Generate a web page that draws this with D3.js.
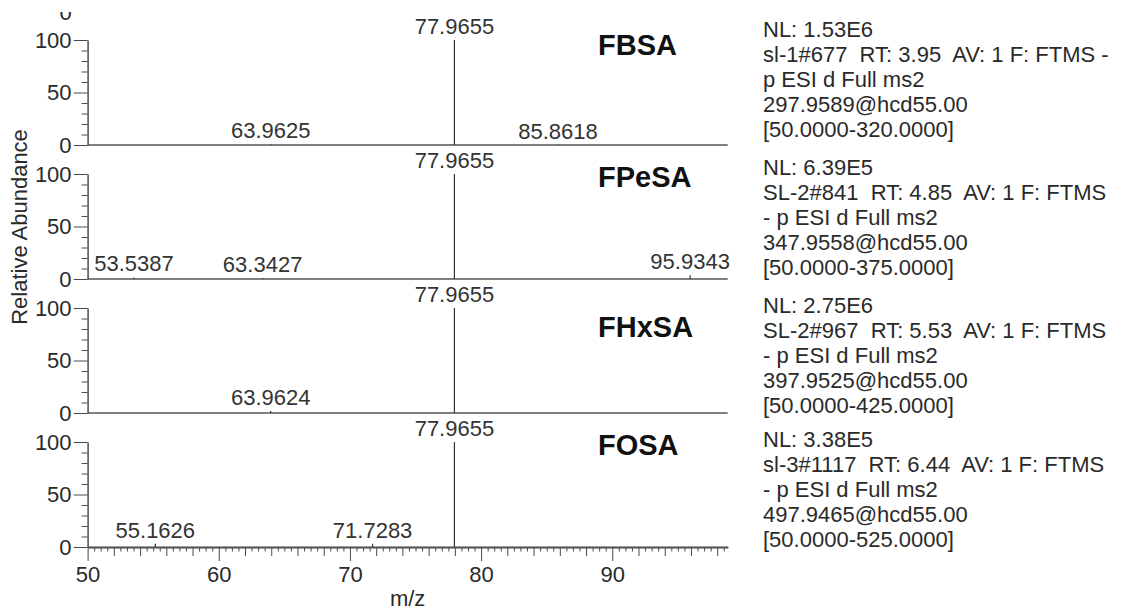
<!DOCTYPE html>
<html>
<head>
<meta charset="utf-8">
<script src="https://cdn.jsdelivr.net/npm/d3@7"></script>
<style>
  html, body { margin: 0; padding: 0; background: #fff; }
  svg { display: block; font-family: "Liberation Sans", Arial, Helvetica, sans-serif; }
  text { white-space: pre; }
</style>
</head>
<body>
<svg id="chart" width="1128" height="612"></svg>
<script>
// MS2 product-ion spectra of four perfluoroalkane sulfonamides (stacked panels)
const compounds = ["FBSA", "FPeSA", "FHxSA", "FOSA"];

const fbsaMz = [63.9625, 77.9655, 85.8618];
const fbsaAbundance = [0.6, 100, 0.4];
const fpesaMz = [53.5387, 63.3427, 77.9655, 95.9343];
const fpesaAbundance = [1.5, 1.0, 100, 3.5];
const fhxsaMz = [63.9624, 77.9655];
const fhxsaAbundance = [2.0, 100];
const fosaMz = [55.1626, 71.7283, 77.9655];
const fosaAbundance = [3.0, 3.0, 100];

// Scan header information shown beside each spectrum
const normLevels = ["1.53E6", "6.39E5", "2.75E6", "3.38E5"];
const scanHeaders = [
  "sl-1#677  RT: 3.95  AV: 1 F: FTMS -",
  "SL-2#841  RT: 4.85  AV: 1 F: FTMS",
  "SL-2#967  RT: 5.53  AV: 1 F: FTMS",
  "sl-3#1117  RT: 6.44  AV: 1 F: FTMS"
];
const scanModes = ["p ESI d Full ms2", "- p ESI d Full ms2", "- p ESI d Full ms2", "- p ESI d Full ms2"];
const precursors = ["297.9589@hcd55.00", "347.9558@hcd55.00", "397.9525@hcd55.00", "497.9465@hcd55.00"];
const scanRanges = ["[50.0000-320.0000]", "[50.0000-375.0000]", "[50.0000-425.0000]", "[50.0000-525.0000]"];

const xTickValues = [50, 60, 70, 80, 90];
const yTickValues = [0, 50, 100];
const mzDomain = [50, 98.8];
const abundanceDomain = [0, 100];

const spectra = [
  { mz: fbsaMz, ab: fbsaAbundance },
  { mz: fpesaMz, ab: fpesaAbundance },
  { mz: fhxsaMz, ab: fhxsaAbundance },
  { mz: fosaMz, ab: fosaAbundance }
];

// ---- layout ----
const plotLeft = 87.6, plotRight = 727.7;
const panelTop = 40, panelStep = 134, panelHeight = 105;
const nameX = 598, nameDy = [15, 13, 29, 13];
const infoX = 763, infoDy = [-3.3, 1, 5.3, 4.7], infoLine = 25;
const fontSize = 22;
const ink = "#2a2a2a", axisInk = "#4a4a4a";

const svg = d3.select("#chart");
const x = d3.scaleLinear().domain(mzDomain).range([plotLeft, plotRight]);
const fmt = d3.format(".4f");

// clipped tick label left over from a panel above the visible area
svg.append("clipPath").attr("id", "topclip")
  .append("rect").attr("x", 0).attr("y", 12).attr("width", 100).attr("height", 20);
svg.append("text").attr("clip-path", "url(#topclip)")
  .attr("x", 71.7).attr("y", 20).attr("text-anchor", "end")
  .attr("font-size", fontSize).attr("fill", ink).text("0");

function styleAxis(sel) {
  sel.attr("font-family", null).attr("font-size", fontSize);
  sel.selectAll("path.domain").attr("stroke", axisInk);
  sel.selectAll(".tick line").attr("stroke", axisInk);
  sel.selectAll(".tick text").attr("fill", ink);
}

spectra.forEach((s, i) => {
  const top = panelTop + i * panelStep;
  const g = svg.append("g").attr("transform", `translate(0,${top})`);
  const y = d3.scaleLinear().domain(abundanceDomain).range([panelHeight, 0]);

  // y axis: labelled major ticks and minor ticks every 10 %
  g.append("g").attr("transform", `translate(${plotLeft},0)`)
    .call(d3.axisLeft(y).tickValues(d3.range(0, 101, 10).filter(v => !yTickValues.includes(v)))
      .tickSize(6).tickSizeOuter(0).tickFormat(""))
    .call(styleAxis);
  g.append("g").attr("transform", `translate(${plotLeft},0)`)
    .call(d3.axisLeft(y).tickValues(yTickValues).tickSize(14).tickPadding(2).tickSizeOuter(0))
    .call(styleAxis);

  // baseline / x axis
  if (i < spectra.length - 1) {
    g.append("line")
      .attr("x1", x(mzDomain[0])).attr("x2", x(mzDomain[1]))
      .attr("y1", y(0)).attr("y2", y(0))
      .attr("stroke", "#555").attr("stroke-width", 1.6);
  } else {
    const minor = d3.range(50, 99, 0.5).filter(v => v % 2 !== 0);
    const medium = d3.range(50, 99, 2).filter(v => v % 10 !== 0);
    const ax = g.append("g").attr("transform", `translate(0,${y(0)})`);
    ax.append("g").call(d3.axisBottom(x).tickValues(minor).tickSize(4.5).tickSizeOuter(0).tickFormat("")).call(styleAxis);
    ax.append("g").call(d3.axisBottom(x).tickValues(medium).tickSize(9).tickSizeOuter(0).tickFormat("")).call(styleAxis);
    ax.append("g").call(d3.axisBottom(x).tickValues(xTickValues).tickSize(14).tickPadding(5).tickSizeOuter(0)).call(styleAxis);
    ax.selectAll("path.domain").attr("stroke", "#555").attr("stroke-width", 1.6);
  }

  // peaks
  const peaks = s.mz.map((m, k) => ({ mz: m, ab: s.ab[k] }));
  g.selectAll("line.peak").data(peaks).join("line")
    .attr("class", "peak")
    .attr("x1", d => x(d.mz)).attr("x2", d => x(d.mz))
    .attr("y1", y(0)).attr("y2", d => y(d.ab))
    .attr("stroke", "#333").attr("stroke-width", 1.2);

  g.selectAll("text.plabel").data(peaks).join("text")
    .attr("class", "plabel")
    .attr("x", d => x(d.mz))
    .attr("y", d => y(d.ab) - (d.ab >= 50 ? 6.5 : 6))
    .attr("text-anchor", "middle")
    .attr("font-size", fontSize).attr("fill", "#333")
    .text(d => fmt(d.mz));

  // compound name
  g.append("text")
    .attr("x", nameX).attr("y", nameDy[i])
    .attr("font-size", 29).attr("font-weight", "bold").attr("fill", "#111")
    .text(compounds[i]);

  // scan information block
  const lines = ["NL: " + normLevels[i], scanHeaders[i], scanModes[i], precursors[i], scanRanges[i]];
  g.selectAll("text.info").data(lines).join("text")
    .attr("class", "info")
    .attr("x", infoX)
    .attr("y", (d, k) => infoDy[i] + k * infoLine)
    .attr("font-size", fontSize).attr("fill", ink)
    .text(d => d);
});

// axis titles
svg.append("text")
  .attr("transform", "translate(26.5,227) rotate(-90)")
  .attr("text-anchor", "middle").attr("font-size", fontSize).attr("fill", ink)
  .text("Relative Abundance");
svg.append("text")
  .attr("x", (plotLeft + plotRight) / 2).attr("y", 606)
  .attr("text-anchor", "middle").attr("font-size", fontSize).attr("fill", ink)
  .text("m/z");
</script>
</body>
</html>
